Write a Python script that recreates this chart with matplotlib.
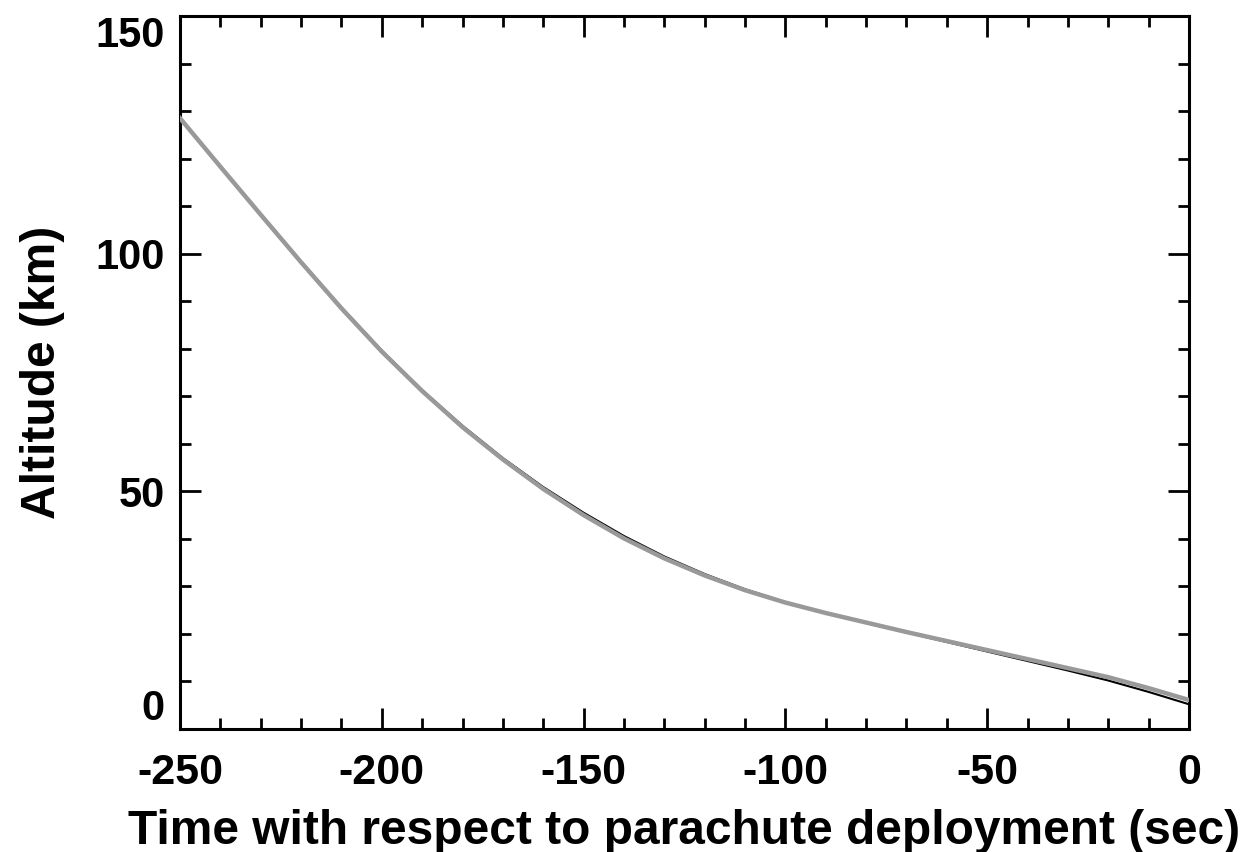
import matplotlib
matplotlib.use("Agg")
import matplotlib.pyplot as plt
from matplotlib.ticker import MultipleLocator

time_s = [-250, -240, -230, -220, -210, -200, -190, -180, -170, -160, -150,
          -140, -130, -120, -110, -100, -90, -80, -70, -60, -50, -40, -30,
          -20, -10, 0]
alt_black = [128.5, 118.3, 108.2, 98.3, 88.7, 79.6, 71.3, 63.8, 57.0, 50.9,
             45.5, 40.6, 36.3, 32.6, 29.4, 26.7, 24.4, 22.3, 20.3, 18.3,
             16.3, 14.3, 12.3, 10.2, 7.8, 5.2]
alt_gray = [128.5, 118.3, 108.2, 98.2, 88.5, 79.4, 71.1, 63.5, 56.7, 50.5,
            45.0, 40.1, 35.9, 32.3, 29.2, 26.6, 24.4, 22.4, 20.4, 18.5,
            16.6, 14.7, 12.8, 10.9, 8.6, 6.1]

xticks = [-250, -200, -150, -100, -50, 0]
yticks = [0, 50, 100, 150]

plt.rcParams['font.family'] = ['Liberation Sans', 'DejaVu Sans']
plt.rcParams['font.weight'] = 'bold'

fig = plt.figure(figsize=(12.43, 8.52), dpi=100)
ax = fig.add_axes([180/1243, 1-729/852, (1189-180)/1243, (729-16)/852])

ax.plot(time_s, alt_black, color='black', lw=1.5, zorder=2)
ax.plot(time_s, alt_gray, color='#999999', lw=3.2, zorder=3)

ax.set_xlim(-250, 0)
ax.set_ylim(0, 150)
ax.set_xticks(xticks)
ax.set_yticks(yticks)
ax.xaxis.set_minor_locator(MultipleLocator(10))
ax.yaxis.set_minor_locator(MultipleLocator(10))
ax.tick_params(which='both', direction='in', top=True, right=True, width=2)
ax.tick_params(which='major', length=15)
ax.tick_params(which='minor', length=8)
ax.tick_params(axis='y', pad=11, labelsize=30)
ax.tick_params(axis='x', pad=17, labelsize=31)
for s in ax.spines.values():
    s.set_linewidth(2.2)

ax.set_xticklabels([str(t) for t in xticks], fontweight='bold')
ax.set_yticklabels([str(t) for t in yticks], fontweight='bold')
ylabs = ax.get_yticklabels()
ylabs[0].set_va('bottom')
ylabs[-1].set_va('top')

ax.set_xlabel('Time with respect to parachute deployment (sec)', fontsize=34.5,
              fontweight='bold', labelpad=12)
ax.set_ylabel('Altitude (km)', fontsize=34.5, fontweight='bold', labelpad=22)

fig.savefig('out.png', dpi=100)
